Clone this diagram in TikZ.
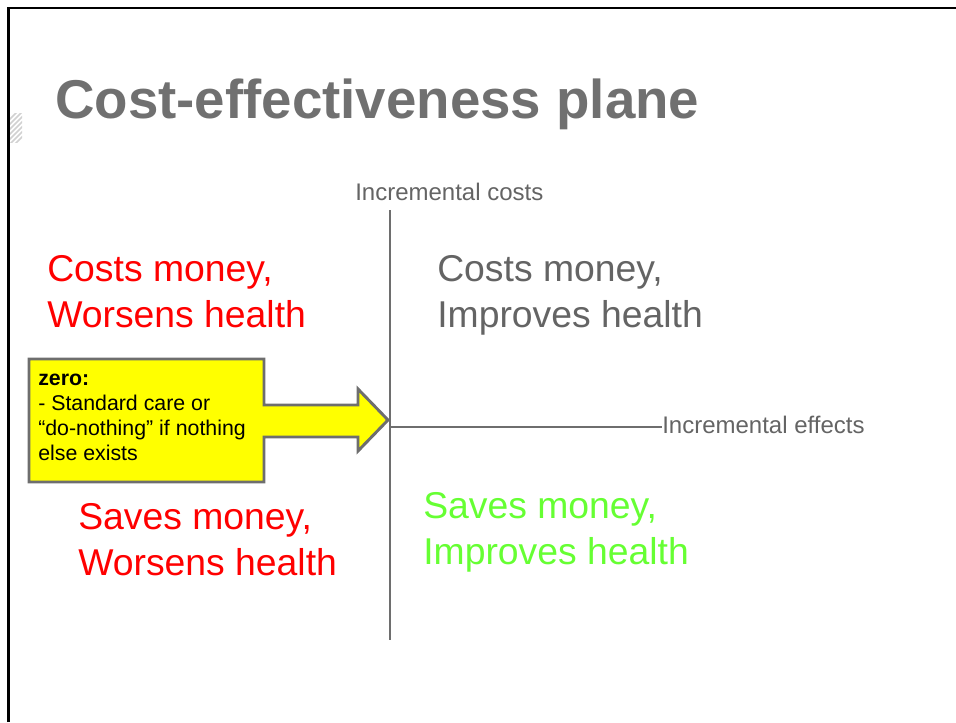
\documentclass[tikz,border=0pt]{standalone}
\usepackage{fontspec}
\setmainfont{Liberation Sans}
\usetikzlibrary{positioning}
\definecolor{AxisGrey}{RGB}{110,110,110}
\definecolor{TitleGrey}{RGB}{112,112,112}
\definecolor{LabelGrey}{RGB}{100,100,100}
\definecolor{LossRed}{RGB}{255,0,0}
\definecolor{GainGreen}{RGB}{102,255,51}
\definecolor{NoteYellow}{RGB}{255,255,0}

\begin{document}
\begin{tikzpicture}[x=0.75pt, y=-0.75pt,
    every node/.style={inner sep=0pt, align=left},
    quadrant/.style={anchor=base west, font=\fontsize{28}{34}\selectfont},
    axislabel/.style={anchor=base west, text=LabelGrey, font=\fontsize{18}{22}\selectfont},
    axisline/.style={AxisGrey, line width=1.5pt}]
  \useasboundingbox (0,0) rectangle (956,722);
  % slide frame
  \draw[line width=2.2pt] (8.5,722) -- (8.5,8) -- (956,8);
  \begin{scope}
    \clip (10,113) rectangle (22,142);
    \foreach \k in {0,...,6}
      \draw[black!18, line width=1.2pt] (8,121+5*\k) -- (24,105+5*\k);
  \end{scope}
  \node[anchor=base west, text=TitleGrey, font=\fontsize{41}{48}\selectfont\bfseries] (title) at (55,118) {Cost-effectiveness plane};

  % axes
  \coordinate (origin) at (390,427);
  \coordinate (ytop) at (390,210);
  \coordinate (ybot) at (390,640);
  \node[axislabel] (costs) at (355,200) {Incremental costs};
  \node[axislabel] (effects) at (662,433) {Incremental effects};
  \draw[axisline] (ytop) -- (ybot);
  \draw[axisline] (origin) -- (effects.west |- origin);

  % quadrants (anchored on the baseline of the second line)
  \node[quadrant, text=LossRed] (nw) at (47,327) {Costs money,\\Worsens health};
  \node[quadrant, text=LabelGrey] (ne) at (437,327) {Costs money,\\Improves health};
  \node[quadrant, text=LossRed] (sw) at (78,575) {Saves money,\\Worsens health};
  \node[quadrant, text=GainGreen] (se) at (423,564) {Saves money,\\Improves health};

  % comparator callout pointing at the origin
  \draw[fill=NoteYellow, draw=AxisGrey, line width=2.2pt, line join=miter]
    (29,359) -- (264,359) -- (264,405) -- (358,405) -- (358,389) -- (388,420)
    -- (358,451) -- (358,437) -- (264,437) -- (264,482) -- (29,482) -- cycle;
  \node[anchor=base west, font=\fontsize{16}{18.6}\selectfont] (zero) at (38,460)
    {\textbf{zero:}\\- Standard care or\\“do-nothing” if nothing\\else exists};
\end{tikzpicture}
\end{document}
